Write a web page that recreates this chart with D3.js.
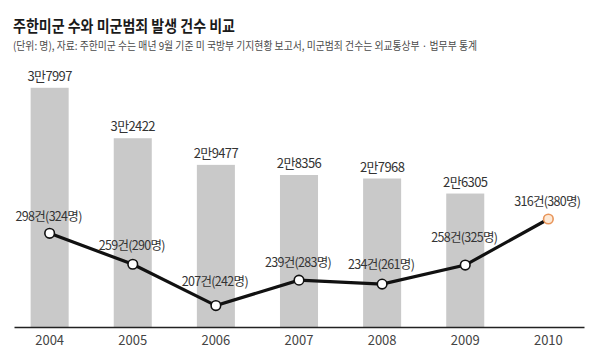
<!DOCTYPE html>
<html>
<head>
<meta charset="utf-8">
<script src="https://cdn.jsdelivr.net/npm/d3@7"></script>
<style>
	body { margin: 0; background: #fff; }
	text { font-family: "Noto Sans CJK KR", "Noto Sans", sans-serif; }
</style>
</head>
<body>
<svg id="chart" width="590" height="362"></svg>
<script>
var years = ["2004", "2005", "2006", "2007", "2008", "2009", "2010"];
var troops = [37997, 32422, 29477, 28356, 27968, 26305, null];
var troopLabels = ["3만7997", "3만2422", "2만9477", "2만8356", "2만7968", "2만6305", ""];
var crimes = [298, 259, 207, 239, 234, 258, 316];
var persons = [324, 290, 242, 283, 261, 325, 380];

var title = "주한미군 수와 미군범죄 발생 건수 비교";
var subtitle = "(단위: 명), 자료: 주한미군 수는 매년 9월 기준 미 국방부 기지현황 보고서, 미군범죄 건수는 외교통상부 · 법무부 통계";

(function(){
	var svg = d3.select("#chart"),
		margin = {top: 60, right: 6, bottom: 35, left: 14},
		width = 590 - margin.left - margin.right,
		height = 362 - margin.top - margin.bottom;

	svg.append("text")
		.attr("x", 13).attr("y", 32)
		.attr("textLength", 222).attr("lengthAdjust", "spacingAndGlyphs")
		.style("font-size", "16px").style("font-weight", "bold").style("fill", "#1a1a1a")
		.text(title);

	svg.append("text")
		.attr("x", 13).attr("y", 50)
		.attr("textLength", 464).attr("lengthAdjust", "spacingAndGlyphs")
		.style("font-size", "11px").style("fill", "#4a4a4a")
		.text(subtitle);

	var g = svg.append("g")
		.attr("transform", "translate(" + margin.left + "," + margin.top + ")");

	var x = d3.scaleBand().domain(years).range([0, width]).paddingInner(0.5425).paddingOuter(0.2);
	var yBar = d3.scaleLinear().domain([11550, 37997]).range([height, 27.8]);
	var yLine = d3.scaleLinear().domain([180, 298]).range([height, 173.3]);

	var data = years.map(function(d, i){
		return {year: d, troops: troops[i], tl: troopLabels[i], crimes: crimes[i], persons: persons[i]};
	});

	var bars = data.filter(function(d){ return d.troops != null; });

	g.selectAll(".bar")
		.data(bars)
		.enter()
		.append("rect")
		.attr("class", "bar")
		.attr("x", function(d){ return x(d.year); })
		.attr("width", x.bandwidth())
		.attr("y", function(d){ return yBar(d.troops); })
		.attr("height", function(d){ return height - yBar(d.troops); })
		.style("fill", "#c9c9c9");

	g.selectAll(".blabel")
		.data(bars)
		.enter()
		.append("text")
		.attr("class", "blabel")
		.attr("x", function(d){ return x(d.year) + x.bandwidth() / 2; })
		.attr("y", function(d){ return yBar(d.troops) - 7; })
		.attr("text-anchor", "middle")
		.style("font-size", "13px").style("letter-spacing", "-0.6px").style("fill", "#333")
		.text(function(d){ return d.tl; });

	// x axis
	var xAxis = g.append("g")
		.attr("transform", "translate(0," + height + ")")
		.call(d3.axisBottom(x).tickSize(0).tickPadding(9));
	xAxis.select(".domain").attr("stroke", "#222").attr("stroke-width", 1.4);
	xAxis.selectAll("text")
		.style("font-size", "13px").style("fill", "#444")
		.style("font-family", "\"Noto Sans CJK KR\", sans-serif");

	var line = d3.line()
		.x(function(d){ return x(d.year) + x.bandwidth() / 2; })
		.y(function(d){ return yLine(d.crimes); });

	g.append("path")
		.datum(data)
		.attr("d", line)
		.style("fill", "none")
		.style("stroke", "#111")
		.style("stroke-width", 3.2);

	g.selectAll(".dot")
		.data(data)
		.enter()
		.append("circle")
		.attr("class", "dot")
		.attr("cx", function(d){ return x(d.year) + x.bandwidth() / 2; })
		.attr("cy", function(d){ return yLine(d.crimes); })
		.attr("r", 4.8)
		.style("fill", function(d, i){ return i == data.length - 1 ? "#fde9d6" : "#fff"; })
		.style("stroke", function(d, i){ return i == data.length - 1 ? "#e8955a" : "#111"; })
		.style("stroke-width", 1.6);

	var lift = [12, 14, 20, 13, 15, 23, 13];
	g.selectAll(".llabel")
		.data(data)
		.enter()
		.append("text")
		.attr("class", "llabel")
		.attr("x", function(d){ return x(d.year) + x.bandwidth() / 2 - 1; })
		.attr("y", function(d, i){ return yLine(d.crimes) - lift[i]; })
		.attr("text-anchor", "middle")
		.style("font-size", "12.5px").style("letter-spacing", "-0.7px").style("fill", "#333")
		.text(function(d){ return d.crimes + "건(" + d.persons + "명)"; });
})();
</script>
</body>
</html>
